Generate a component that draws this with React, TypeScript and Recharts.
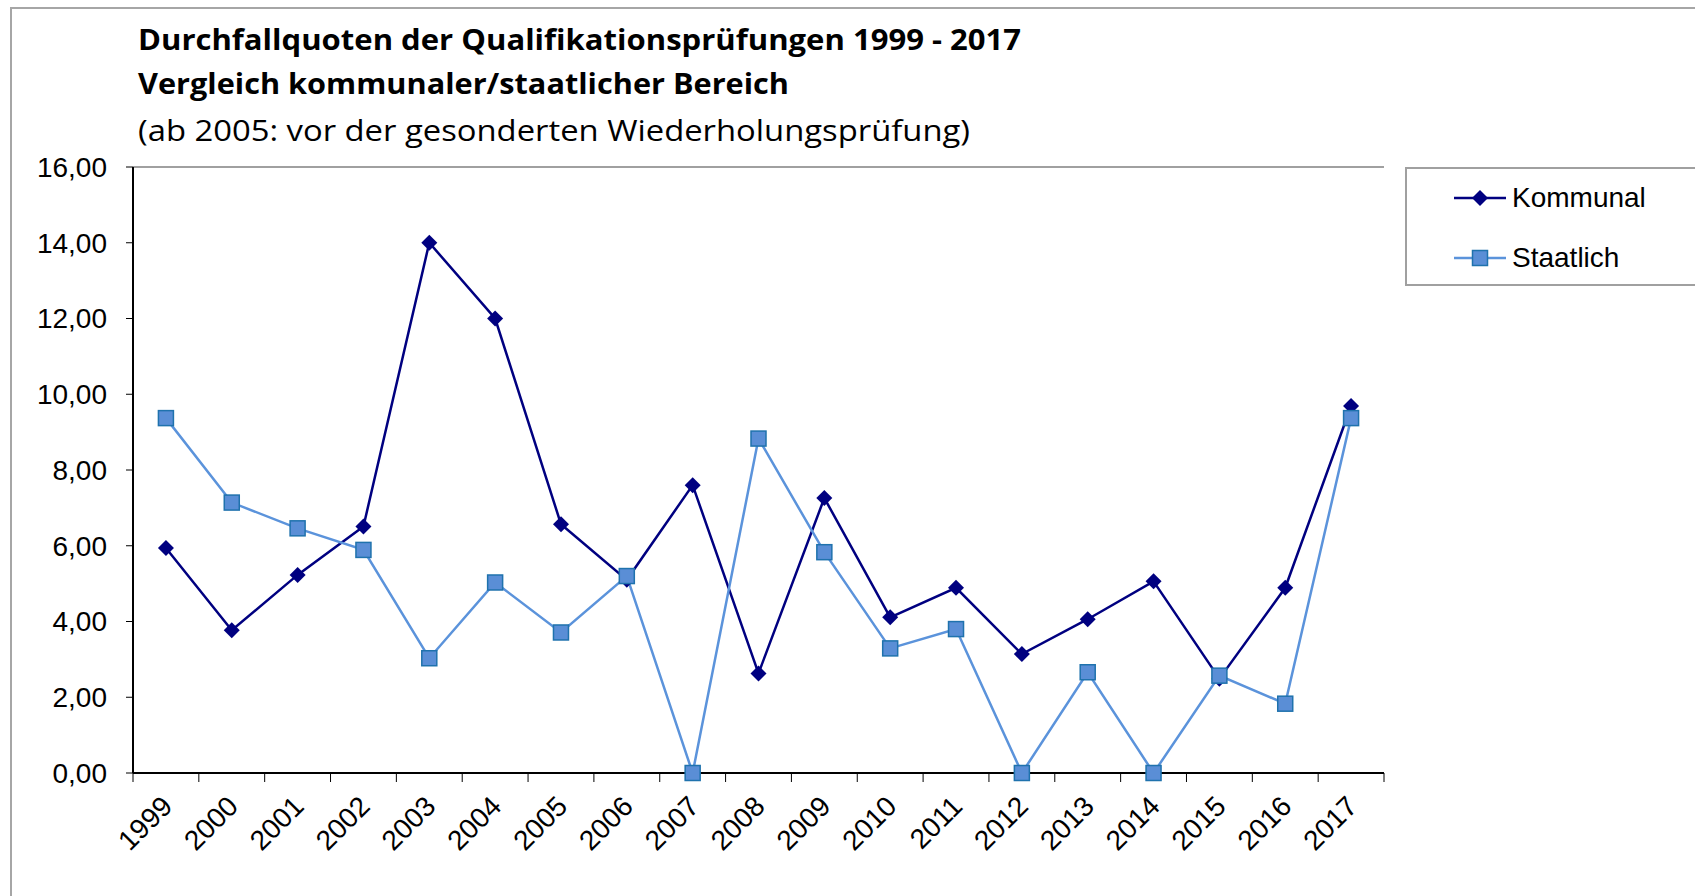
import React from "react";
import { CartesianGrid, Legend, Line, LineChart, ReferenceLine, XAxis, YAxis } from "recharts";

const YEARS = [
  "1999", "2000", "2001", "2002", "2003", "2004", "2005", "2006", "2007", "2008",
  "2009", "2010", "2011", "2012", "2013", "2014", "2015", "2016", "2017",
];
const KOMMUNAL = [5.94, 3.77, 5.23, 6.51, 14.0, 12.0, 6.57, 5.1, 7.6, 2.63, 7.26, 4.11, 4.89, 3.14, 4.06, 5.06, 2.49, 4.89, 9.69];
const STAATLICH = [9.37, 7.14, 6.46, 5.89, 3.03, 5.03, 3.71, 5.2, 0, 8.83, 5.83, 3.29, 3.8, 0, 2.66, 0, 2.57, 1.83, 9.37];
const Y_TICKS = [0, 2, 4, 6, 8, 10, 12, 14, 16];
const TITLE = [
  "Durchfallquoten der Qualifikationsprüfungen 1999 - 2017",
  "Vergleich kommunaler/staatlicher Bereich",
  "(ab 2005: vor der gesonderten Wiederholungsprüfung)",
];

const data = YEARS.map((year, i) => ({ year, kommunal: KOMMUNAL[i], staatlich: STAATLICH[i] }));

const NAVY = "#000080";
const LIGHT = "#5b93db";
const SQ_FILL = "#5a8ed6";
const SQ_STROKE = "#1f72ad";
const FONT = "'Liberation Sans', Arial, sans-serif";

const fmt = (v: number) => v.toFixed(2).replace(".", ",");

function Diamond({ cx, cy, r = 8 }: { cx: number; cy: number; r?: number }) {
  return <path d={`M${cx},${cy - r}L${cx + r},${cy}L${cx},${cy + r}L${cx - r},${cy}Z`} fill={NAVY} />;
}

function Square({ cx, cy, s = 15 }: { cx: number; cy: number; s?: number }) {
  return <rect x={cx - s / 2} y={cy - s / 2} width={s} height={s} fill={SQ_FILL} stroke={SQ_STROKE} strokeWidth={1.5} />;
}

// year labels sit at band centres, tick marks at band edges
function YearTick(props: any) {
  const { x, y, payload, index, visibleTicksCount } = props;
  const half = payload.offset ?? 0;
  const ax = x + 8;
  const ay = y + 35;
  return (
    <g>
      <line x1={x - half} x2={x - half} y1={y} y2={y + 9} stroke="#000" />
      {index === visibleTicksCount - 1 && <line x1={x + half} x2={x + half} y1={y} y2={y + 9} stroke="#000" />}
      <text x={ax} y={ay} transform={`rotate(-45 ${ax} ${ay})`} textAnchor="end" fontSize={28} fontFamily={FONT} fill="#000">
        {payload.value}
      </text>
    </g>
  );
}

function LegendBox({ payload }: any) {
  return (
    <div style={{ width: "100%", height: "100%", border: "2px solid #a0a0a0", borderRight: "none", boxSizing: "border-box", position: "relative", fontFamily: FONT, fontSize: 28 }}>
      {(payload ?? []).map((p: any, i: number) => (
        <div key={p.value} style={{ position: "absolute", left: 45, top: 12 + i * 60, height: 34, display: "flex", alignItems: "center" }}>
          <svg width={56} height={34}>
            <line x1={2} x2={54} y1={17} y2={17} stroke={p.color} strokeWidth={2.5} />
            {p.dataKey === "kommunal" ? <Diamond cx={28} cy={17} /> : <Square cx={28} cy={17} />}
          </svg>
          <span style={{ marginLeft: 4, color: "#000" }}>{p.value}</span>
        </div>
      ))}
    </div>
  );
}

export default function App() {
  return (
    <div style={{ position: "fixed", left: 0, top: 0, width: 1695, height: 896, overflow: "hidden", background: "#fff" }}>
      <div style={{ position: "absolute", left: 10, top: 7, width: 1700, height: 900, borderLeft: "2px solid #a6a6a6", borderTop: "2px solid #a6a6a6" }} />
      <svg style={{ position: "absolute", left: 0, top: 0 }} width={1695} height={160}>
        <text x={138} y={50} fontFamily="'Open Sans', sans-serif" fontWeight={700} fontSize={29} textLength={883} lengthAdjust="spacingAndGlyphs">{TITLE[0]}</text>
        <text x={138} y={94} fontFamily="'Open Sans', sans-serif" fontWeight={700} fontSize={29} textLength={651} lengthAdjust="spacingAndGlyphs">{TITLE[1]}</text>
        <text x={138} y={141} fontFamily="'Open Sans', sans-serif" fontWeight={400} fontSize={29} textLength={832} lengthAdjust="spacingAndGlyphs">{TITLE[2]}</text>
      </svg>
      <div style={{ position: "absolute", left: 0, top: 0 }}>
        <LineChart width={1695} height={896} data={data} margin={{ top: 167, right: 311, bottom: 23, left: 13 }}>
          <CartesianGrid vertical={false} stroke="#7a7a7a" strokeWidth={1} />
          <XAxis
            dataKey="year"
            scale="band"
            height={100}
            tickSize={0}
            tickMargin={0}
            tickLine={false}
            axisLine={{ stroke: "#000", strokeWidth: 2 }}
            tick={<YearTick />}
            interval={0}
          />
          <YAxis
            yAxisId="left"
            width={120}
            domain={[0, 16]}
            ticks={Y_TICKS}
            tickFormatter={fmt}
            tickSize={7}
            tickMargin={19}
            tickLine={{ stroke: "#000" }}
            axisLine={{ stroke: "#000", strokeWidth: 2 }}
            tick={{ fontSize: 28, fontFamily: FONT, fill: "#000" }}
            interval={0}
          />
          <YAxis yAxisId="right" orientation="right" width={0} domain={[0, 16]} tick={false} tickLine={false} axisLine={{ stroke: "#a0a0a0", strokeWidth: 2 }} />
          <ReferenceLine yAxisId="left" y={16} stroke="#a0a0a0" strokeWidth={2} />
          <Legend
            layout="horizontal"
            verticalAlign="middle"
            align="center"
            wrapperStyle={{ left: 1405, top: 167, width: 300, height: 119 }}
            content={<LegendBox />}
          />
          <Line
            yAxisId="left"
            dataKey="kommunal"
            name="Kommunal"
            stroke={NAVY}
            strokeWidth={2.5}
            dot={(p: any) => <Diamond key={`k${p.index}`} cx={p.cx} cy={p.cy} />}
            activeDot={false}
            isAnimationActive={false}
          />
          <Line
            yAxisId="left"
            dataKey="staatlich"
            name="Staatlich"
            stroke={LIGHT}
            strokeWidth={2.5}
            dot={(p: any) => <Square key={`s${p.index}`} cx={p.cx} cy={p.cy} />}
            activeDot={false}
            isAnimationActive={false}
          />
        </LineChart>
      </div>
    </div>
  );
}
